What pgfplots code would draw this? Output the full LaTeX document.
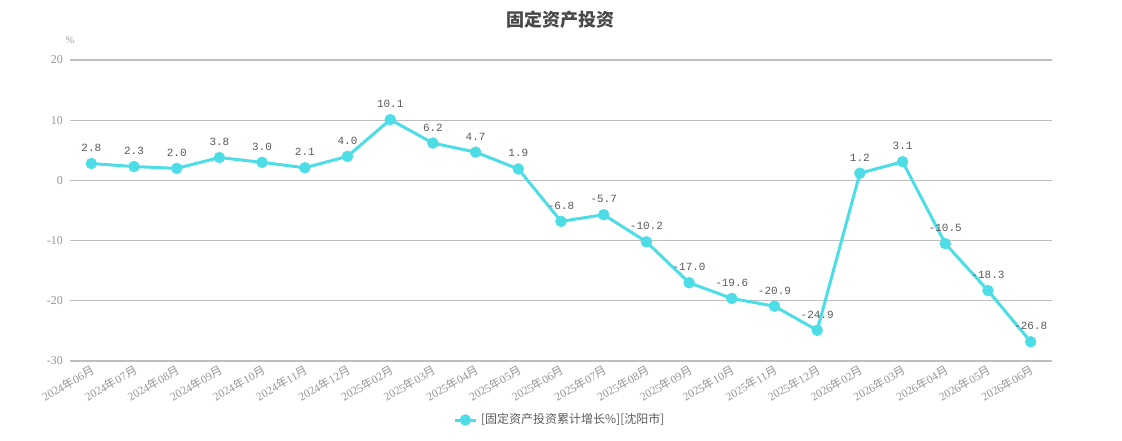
\documentclass[border=0pt]{standalone}
\usepackage{fontspec}
\usepackage{pgfplots}
\pgfplotsset{compat=1.18}
\setmainfont{Liberation Serif}
\newfontfamily\cjk{Noto Sans CJK SC}
\newfontfamily\mono{Liberation Mono}
\definecolor{lc}{RGB}{77,221,230}
\definecolor{gridc}{RGB}{190,190,190}
\definecolor{tickc}{RGB}{150,150,150}
\definecolor{labc}{RGB}{90,90,90}
\newcommand\ym[2]{#1{\cjk 年}#2{\cjk 月}}
\begin{document}
\begin{tikzpicture}[x=1pt,y=1pt]
\path[use as bounding box] (0,0) rectangle (561,220);
\node[font=\cjk\bfseries\fontsize{9}{10}\selectfont, text=labc!80!black] at (280,210) {固定资产投资};
\node[font=\fontsize{5}{6}\selectfont, text=tickc] at (35,200) {\%};
\begin{axis}[
  at={(35pt,39.5pt)}, anchor=south west,
  width=491pt, height=150.5pt, scale only axis,
  xmin=-0.5, xmax=22.5, ymin=-30, ymax=20,
  ytick={-30,-20,-10,0,10,20},
  xtick={0,...,22},
  xticklabels={\ym{2024}{06},\ym{2024}{07},\ym{2024}{08},\ym{2024}{09},\ym{2024}{10},\ym{2024}{11},\ym{2024}{12},\ym{2025}{02},\ym{2025}{03},\ym{2025}{04},\ym{2025}{05},\ym{2025}{06},\ym{2025}{07},\ym{2025}{08},\ym{2025}{09},\ym{2025}{10},\ym{2025}{11},\ym{2025}{12},\ym{2026}{02},\ym{2026}{03},\ym{2026}{04},\ym{2026}{05},\ym{2026}{06}},
  axis line style={draw=none},
  tick style={draw=none},
  ymajorgrids,
  grid style={color=gridc, line width=0.6pt},
  yticklabel style={font=\fontsize{6}{7}\selectfont, text=tickc, /pgf/number format/assume math mode=true},
  xticklabel style={font=\fontsize{5.8}{6}\selectfont, text=tickc, rotate=30, anchor=north east, inner sep=1pt},
  nodes near coords,
  nodes near coords align={anchor=south},
  nodes near coords style={font=\mono\fontsize{5.5}{6}\selectfont, text=labc, anchor=south, yshift=2.5pt, /pgf/number format/.cd, fixed, zerofill, precision=1, assume math mode=true},
  legend style={at={(0.5,-0.196)}, anchor=center, draw=none, fill=none, font=\cjk\fontsize{6}{7}\selectfont, text=labc},
  legend image code/.code={\draw[mark repeat=2,mark phase=2,#1] plot coordinates {(0cm,0cm) (0.18cm,0cm) (0.36cm,0cm)};},
]
\addplot[color=lc, line width=1.5pt, mark=*, mark size=2.7pt, mark options={fill=lc, draw=lc, line width=0.3pt, solid}] coordinates {
(0,2.8) (1,2.3) (2,2.0) (3,3.8) (4,3.0) (5,2.1) (6,4.0) (7,10.1) (8,6.2) (9,4.7) (10,1.9) (11,-6.8) (12,-5.7) (13,-10.2) (14,-17.0) (15,-19.6) (16,-20.9) (17,-24.9) (18,1.2) (19,3.1) (20,-10.5) (21,-18.3) (22,-26.8)
};
\addlegendentry{[固定资产投资累计增长\%][沈阳市]}
\end{axis}
\end{tikzpicture}
\end{document}
